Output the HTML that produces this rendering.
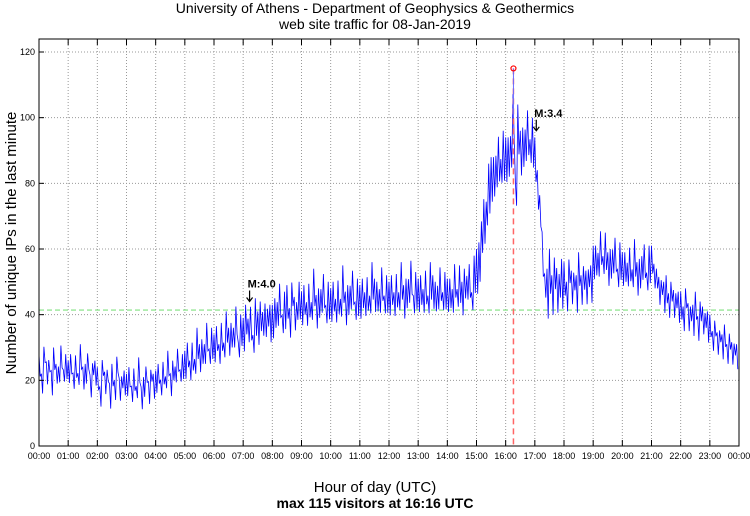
<!DOCTYPE html>
<html><head><meta charset="utf-8"><style>
body{margin:0;background:#fff;}
svg text{font-family:"Liberation Sans",sans-serif;}
</style></head><body>
<svg id="chart" width="750" height="511" xmlns="http://www.w3.org/2000/svg">
<text x="375" y="13" font-size="14" text-anchor="middle">University of Athens - Department of Geophysics &amp; Geothermics</text>
<text x="375" y="29" font-size="14" text-anchor="middle">web site traffic for 08-Jan-2019</text>
<text x="375" y="492" font-size="15" text-anchor="middle">Hour of day (UTC)</text>
<text x="375" y="508" font-size="14" font-weight="bold" text-anchor="middle">max 115 visitors at 16:16 UTC</text>
<text x="0" y="0" font-size="15" text-anchor="middle" transform="translate(16,243) rotate(-90)">Number of unique IPs in the last minute</text>
<g id="grid"></g><g id="series"></g><g id="overlay"></g><g id="axes"></g>
</svg>
<script>
const yTicks=[0,20,40,60,80,100,120];
const hourLabels=["00:00","01:00","02:00","03:00","04:00","05:00","06:00","07:00","08:00","09:00","10:00","11:00","12:00","13:00","14:00","15:00","16:00","17:00","18:00","19:00","20:00","21:00","22:00","23:00","00:00"];
const visitors=[
24,20,27,22,25,19,26,23,21,27,22,24,
22,26,19,24,21,27,20,23,25,18,24,22,
20,16,23,19,22,15,21,18,24,17,20,19,
18,22,15,20,17,23,14,19,21,16,22,18,
19,23,17,22,20,25,18,24,21,26,22,24,
24,29,22,27,25,31,26,30,27,33,28,31,
29,34,27,33,30,36,31,35,32,38,30,35,
33,40,34,37,32,39,35,41,36,38,40,37,
37,42,39,44,38,41,43,39,45,40,42,44,
41,46,39,44,42,48,40,45,43,47,41,44,
42,47,40,45,43,49,41,46,44,48,42,45,
43,48,42,46,44,50,45,47,43,49,44,46,
44,49,42,47,45,50,43,48,46,51,44,47,
45,49,43,48,44,50,46,47,44,49,45,47,
45,48,43,50,46,49,44,51,47,50,45,52,
52,58,62,68,72,78,80,84,82,87,85,88,
86,90,88,100,78,96,88,93,90,95,91,92,
86,80,70,58,50,46,52,48,51,47,50,49,
50,47,52,48,51,46,53,49,50,48,52,49,
55,58,54,60,56,59,53,57,55,58,52,56,
53,56,51,55,52,57,50,54,53,56,51,55,
56,53,50,47,49,45,47,44,46,43,45,42,
42,40,44,39,41,38,42,37,40,38,39,36,
36,33,35,31,34,30,33,29,31,28,30,27];
// per-hour noise spread
const hourlySpread=[4,4,4,4,4,5,5,6,6,6,6,6,6,6,6,8,8,8,6,6,6,5,5,4];
const jitter=[1,-0.7,0.5,-1,0.8,-0.4,0.9,-0.8,0.3,-0.6,1,-0.9];
const averageValue=[41.4];
const maxPoint=[16+16/60,115];
const quakes=[{label:"M:4.0",hour:7.22,value:44},{label:"M:3.4",hour:17.05,value:96}];

const L=39,R=739,T=39,B=446,Y0=446,Y120=52;
const xs=h=>L+h/24*(R-L);
const ys=v=>Y0-v/120*(Y0-Y120);
const NS="http://www.w3.org/2000/svg";
function mk(tag,parent,attrs){const e=document.createElementNS(NS,tag);for(const k in attrs)e.setAttribute(k,attrs[k]);document.getElementById(parent).appendChild(e);return e;}

yTicks.forEach(v=>{
 if(v>0){const g=mk('line','grid',{x1:L,x2:R,y1:ys(v),y2:ys(v),stroke:'#999','stroke-dasharray':'1,2','stroke-width':1});
 
 }
 const t=mk('line','axes',{x1:L,x2:L+5,y1:ys(v),y2:ys(v),stroke:'#000'});
 
 
 const l=mk('text','axes',{x:L-4,y:ys(v)+3,'font-size':9,'text-anchor':'end'});l.textContent=v;
 
 
});
hourLabels.forEach((s,i)=>{
 const x=xs(i);
 if(i>0&&i<24){const g=mk('line','grid',{x1:x,x2:x,y1:T,y2:B,stroke:'#999','stroke-dasharray':'1,2','stroke-width':1});
 
 }
 const t=mk('line','axes',{x1:x,x2:x,y1:B,y2:B-6,stroke:'#000'});
 
 
 const t2=mk('line','axes',{x1:x,x2:x,y1:T,y2:T+6,stroke:'#000'});
 
 
 const l=mk('text','axes',{x:x,y:B+13,'font-size':9,'text-anchor':'middle'});l.textContent=s;
 
 
});
const frame=mk('rect','axes',{x:L,y:T,width:R-L,height:B-T,fill:'none',stroke:'#000'});



const avg=mk('line','series',{x1:L,x2:R,y1:ys(averageValue[0]),y2:ys(averageValue[0]),stroke:'#7fe07f','stroke-dasharray':'5,3','stroke-width':1.2});



const n=visitors.length, step=24/n, sub=2;
const pts=[];
visitors.forEach((v,i)=>{
 const sp=hourlySpread[Math.floor(i*step)];
 for(let k=0;k<sub;k++){
  const j=jitter[(i*sub+k)%jitter.length];
  pts.push(xs((i+k/sub)*step).toFixed(1)+','+ys(v+sp*j).toFixed(1));
 }
});
const ln=mk('polyline','series',{points:pts.join(' '),fill:'none',stroke:'#0000ff','stroke-width':0.8});



const mx=xs(maxPoint[0]),my=ys(maxPoint[1]);
const vl=mk('line','overlay',{x1:mx,x2:mx,y1:my,y2:B,stroke:'#ff6666','stroke-dasharray':'6,4','stroke-width':1.5});


const pk=mk('line','overlay',{x1:mx,x2:mx,y1:my,y2:ys(visitors[195]),stroke:'#6a6aff','stroke-width':1});


const mc=mk('circle','overlay',{cx:mx,cy:my,r:2.5,fill:'none',stroke:'#ff0000','stroke-width':1.2});



quakes.forEach(q=>{
 const x=xs(q.hour),y=ys(q.value);
 const t=mk('text','overlay',{x:x-2,y:y-14,'font-size':11,'font-weight':'bold'});t.textContent=q.label;
 
 
 const a=mk('path','overlay',{d:`M${x},${y-11} L${x},${y} M${x-3},${y-4} L${x},${y} L${x+3},${y-4}`,stroke:'#000','stroke-width':1.2,fill:'none'});
 
 
});
</script>
</body></html>
